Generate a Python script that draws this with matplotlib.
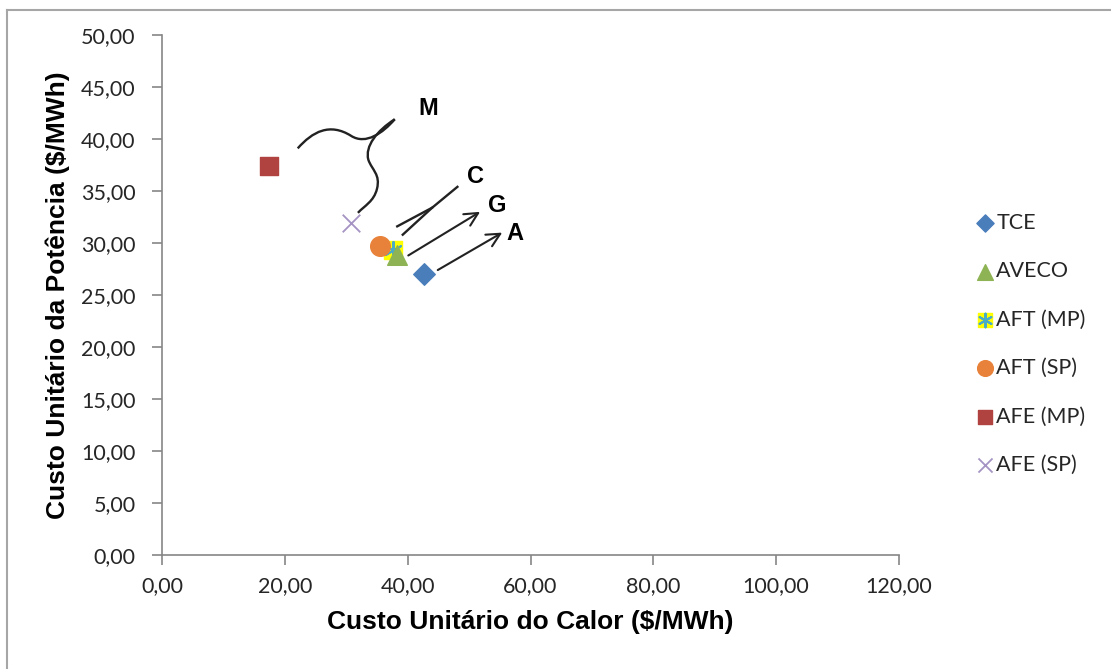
import matplotlib.pyplot as plt
from matplotlib.legend_handler import HandlerTuple
from matplotlib.lines import Line2D
from matplotlib.path import Path
import matplotlib.patches as patches

# series data (heat unit cost, power unit cost)
series = ['TCE', 'AVECO', 'AFT (MP)', 'AFT (SP)', 'AFE (MP)', 'AFE (SP)']
calor = [42.6, 38.2, 37.6, 35.5, 17.4, 30.8]
potencia = [27.0, 28.8, 29.3, 29.7, 37.4, 31.9]

xticks = [0, 20, 40, 60, 80, 100, 120]
yticks = [0, 5, 10, 15, 20, 25, 30, 35, 40, 45, 50]

# hand drawn annotation strokes (data coords, bezier control points)
m_curve1 = [(22.1, 39.1), (24.5, 40.7), (27.3, 41.6), (30.8, 40.3),
            (33.2, 39.4), (36.0, 40.6), (37.9, 41.9)]
m_curve2 = [(37.9, 41.9), (35.0, 40.8), (33.0, 39.3), (33.6, 38.0),
            (34.2, 37.0), (35.6, 36.6), (35.0, 35.2),
            (34.5, 34.0), (33.0, 33.6), (31.9, 32.9)]
c_fork1 = ([38.3, 44.0, 48.1], [31.6, 33.4, 35.4])
c_fork2 = ([39.2, 44.0], [30.8, 33.4])
arrow_g = ((40.1, 28.8), (51.8, 33.0))
arrow_a = ((44.9, 27.4), (55.4, 31.0))
letters = {'M': (43.4, 42.9), 'C': (51.0, 36.4), 'G': (54.6, 33.6), 'A': (57.4, 30.9)}

plt.rcParams['font.family'] = ['Lato', 'DejaVu Sans']

f = plt.figure(figsize=(11.11, 6.69), dpi=100)
ax = f.add_axes([162 / 1111, 1 - 555 / 669, (899 - 162) / 1111, (555 - 35) / 669])

grey = '#868686'
txt = '#262626'
ink = '#222222'

h_tce = ax.scatter(calor[0], potencia[0], marker='D', s=120, color='#4A7EBB', zorder=3)
h_aveco = ax.scatter(calor[1], potencia[1], marker='^', s=200, color='#8DB354', zorder=4)
h_mp_bg = ax.scatter(calor[2], potencia[2], marker='s', s=150, color='#FFFF00', zorder=3)
h_mp_st = ax.scatter(calor[2], potencia[2], marker=(6, 2, 0), s=150, color='#4BACC6',
                     linewidths=1.5, zorder=3)
h_sp = ax.scatter(calor[3], potencia[3], marker='o', s=200, color='#E8823A', zorder=3)
h_afe = ax.scatter(calor[4], potencia[4], marker='s', s=180, color='#B0423F', zorder=3)
h_afe_sp = ax.scatter(calor[5], potencia[5], marker='x', s=160, color='#A493C3',
                      linewidths=1.3, zorder=3)

# annotation strokes
for pts in (m_curve1, m_curve2):
    codes = [Path.MOVETO] + [Path.CURVE4] * (len(pts) - 1)
    ax.add_patch(patches.PathPatch(Path(pts, codes), facecolor='none',
                                   edgecolor=ink, lw=1.7))
ax.plot(*c_fork1, color=ink, lw=1.7)
ax.plot(*c_fork2, color=ink, lw=1.7)
for start, end in (arrow_g, arrow_a):
    ax.annotate('', xy=end, xytext=start,
                arrowprops=dict(arrowstyle='->', color=ink, lw=1.5,
                                mutation_scale=24, shrinkA=0, shrinkB=0))
for k, (lx, ly) in letters.items():
    ax.text(lx, ly, k, fontsize=17, fontweight='bold', family='Liberation Sans',
            ha='center', va='center', color='black')

ax.set_xlim(0, 120)
ax.set_ylim(0, 50)
ax.set_xticks(xticks)
ax.set_yticks(yticks)
ax.set_xticklabels(['{:.2f}'.format(v).replace('.', ',') for v in xticks])
ax.set_yticklabels(['{:.2f}'.format(v).replace('.', ',') for v in yticks])
ax.tick_params(labelsize=15.5, colors=grey, labelcolor=txt, length=7, width=1.2)
ax.tick_params(axis='y', pad=12)
ax.tick_params(axis='x', pad=8)
for s in ['top', 'right']:
    ax.spines[s].set_visible(False)
for s in ['left', 'bottom']:
    ax.spines[s].set_color(grey)
    ax.spines[s].set_linewidth(1.2)

ax.set_xlabel('Custo Unitário do Calor ($/MWh)', fontsize=19, fontweight='bold',
              family='Liberation Sans', labelpad=10)
ax.set_ylabel('Custo Unitário da Potência ($/MWh)', fontsize=19, fontweight='bold',
              family='Liberation Sans', labelpad=8)

handles = [h_tce, h_aveco, (h_mp_bg, h_mp_st), h_sp, h_afe, h_afe_sp]
leg = f.legend(handles, series, loc='center left', bbox_to_anchor=(0.861, 0.486),
               frameon=False, fontsize=15.5, handlelength=0.8, handletextpad=0.15,
               labelspacing=1.32, scatterpoints=1, markerscale=0.8,
               handler_map={tuple: HandlerTuple(ndivide=1, pad=0)})
for t in leg.get_texts():
    t.set_color(txt)

# chart frame (only top/left visible in the crop)
f.add_artist(Line2D([7 / 1111, 1], [1 - 10 / 669, 1 - 10 / 669], color='#A6A6A6', lw=1.5))
f.add_artist(Line2D([7 / 1111, 7 / 1111], [0, 1 - 10 / 669], color='#A6A6A6', lw=1.5))

f.savefig('out.png', dpi=100)
